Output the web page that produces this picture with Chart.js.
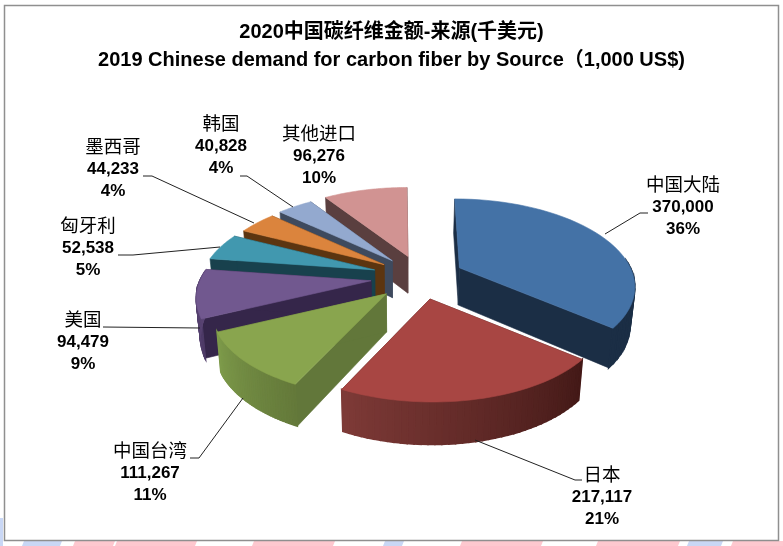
<!DOCTYPE html>
<html><head><meta charset="utf-8">
<style>html,body{margin:0;padding:0;background:#fff}canvas{display:block}</style>
<script src="https://cdn.jsdelivr.net/npm/chart.js@4"></script>
</head><body><canvas id="c" width="783" height="546"></canvas>
<script>
const categories=['中国大陆','日本','中国台湾','美国','匈牙利','墨西哥','韩国','其他进口'];
const values=[370000,217117,111267,94479,52538,44233,40828,96276];
const percents=['36%','21%','11%','9%','5%','4%','4%','10%'];
const explode=[43,45,48,50,48,44,43,43];
const topColors=['#4472a6','#a84643','#89a54e','#71588f','#4198af','#db843d','#93a9cf','#d19392'];
const wallColors=['#1b2e45','#4a1c1a','#62773a','#35264a','#18414d','#5c3510','#3e4a5e','#5a3f3f'];
const arcLight=['#1b2e45','#7e3a37','#7d9a4a','#5e4878','#18414d','#5c3510','#3e4a5e','#5a3f3f'];
const arcDark=['#1b2e45','#431917','#64793a','#4d3a66','#18414d','#5c3510','#3e4a5e','#5a3f3f'];
const labelCenters=[[683,184],[602,474],[150,450],[83,319],[88,225],[113,146],[221,123],[319,133]];
const leaders=[[[605,234],[640,213],[648,213]],[[475,440],[575,480],[582,480]],[[243,398],[199,458],[190,458]],[[200,328],[103,327]],[[220,247],[133,255],[118,255]],[[254,223],[152,176],[143,176]],[[293,207],[247,176],[240,176]],null];
const titleLines=['2020中国碳纤维金额-来源(千美元)','2019 Chinese demand for carbon fiber by Source（1,000 US$)'];
const stripes=[['#c9d7f5',22,60],['#fec8cf',73,113],['#fec8cf',115,195],['#fec8cf',252,333],['#c9d7f5',383,402],['#fec8cf',460,541],['#fec8cf',596,678],['#c9d7f5',687,721],['#fec8cf',731,783]];

const SHIFT=29,K=0.5,K2=0.483,P=0.198,N=40;
function hex(c){return [1,3,5].map(i=>parseInt(c.substr(i,2),16));}
function mix(a,b,t){const A=hex(a),B=hex(b);return 'rgb('+A.map((x,i)=>Math.round(x+(B[i]-x)*t)).join(',')+')';}
function geom(arc){
  const mid=(arc.startAngle+arc.endAngle)/2,off=arc.options.offset;
  const ax=arc.x+SHIFT+off*Math.cos(mid),ay=arc.y+off*Math.sin(mid)*K,R=arc.outerRadius;
  return {ax,ay,pt(a){const u=Math.cos(a),v=Math.sin(a),s=1/(1-P*v);
    return [ax+R*u*s+(ax-392)*0.07*v,ay+R*K2*v*s];}};
}
function drop(p){return [p[0]-(p[0]-400)*0.02,p[1]+37.5+(p[1]-276)*0.04];}
function fillPoly(ctx,pts,col,lw){ctx.beginPath();pts.forEach((p,i)=>i?ctx.lineTo(p[0],p[1]):ctx.moveTo(p[0],p[1]));ctx.closePath();
  ctx.fillStyle=col;ctx.strokeStyle=col;ctx.lineWidth=lw||0.6;ctx.fill();ctx.stroke();}
const frame={id:'frame',beforeDraw(ch){const c=ch.ctx;c.save();c.fillStyle='#fff';c.fillRect(0,0,783,546);
  stripes.forEach(s=>{c.fillStyle=s[0];c.beginPath();c.moveTo(s[1]+2,541);c.lineTo(s[2]+2,541);c.lineTo(s[2],546);c.lineTo(s[1],546);c.closePath();c.fill();});
  c.fillStyle='#c9d7f5';c.fillRect(0,518,3,28);
  c.strokeStyle='#8f8f8f';c.lineWidth=1.5;c.strokeRect(4.5,5.5,774,535);c.restore();}};
const solid={id:'solid',beforeDatasetsDraw(ch){
  const c=ch.ctx,arcs=ch.getDatasetMeta(0).data;c.save();
  const order=arcs.map((a,i)=>i).sort((i,j)=>Math.sin((arcs[i].startAngle+arcs[i].endAngle)/2)-Math.sin((arcs[j].startAngle+arcs[j].endAngle)/2));
  order.forEach(i=>{const arc=arcs[i],g=geom(arc),ap=[g.ax,g.ay],a0=arc.startAngle,a1=arc.endAngle;
    const pts=[];for(let k=0;k<=N;k++)pts.push(g.pt(a0+(a1-a0)*k/N));
    [pts[0],pts[N]].forEach(p=>fillPoly(c,[ap,p,drop(p),drop(ap)],wallColors[i]));
    for(let k=0;k<N;k++){const m=a0+(a1-a0)*(k+.5)/N;if(Math.sin(m)<-0.12)continue;
      const t=(k+.5)/N;fillPoly(c,[pts[k],pts[k+1],drop(pts[k+1]),drop(pts[k])],mix(arcDark[i],arcLight[i],t),1.6);}
    fillPoly(c,[ap].concat(pts),topColors[i]);
  });
  c.restore();return false;}};
const labels={id:'labels',afterDraw(ch){const c=ch.ctx;c.save();
  c.strokeStyle='#222';c.lineWidth=1;
  leaders.forEach(l=>{if(!l)return;c.beginPath();l.forEach((p,i)=>i?c.lineTo(p[0],p[1]):c.moveTo(p[0],p[1]));c.stroke();});
  c.fillStyle='#000';c.textAlign='center';c.textBaseline='middle';
  categories.forEach((n,i)=>{const [x,y]=labelCenters[i];
    c.font='18.5px "Noto Sans CJK SC"';c.fillText(n,x,y);
    c.font='bold 17px "Liberation Sans"';
    c.fillText(values[i].toLocaleString('en-US'),x,y+23);c.fillText(percents[i],x,y+45);});
  c.restore();}};
new Chart(document.getElementById('c'),{type:'pie',
  data:{labels:categories,datasets:[{data:values,backgroundColor:topColors,offset:explode,radius:171,borderWidth:0}]},
  options:{responsive:false,animation:false,devicePixelRatio:1,layout:{padding:{bottom:66}},
    plugins:{legend:{display:false},tooltip:{enabled:false},
      title:{display:true,text:titleLines,color:'#000',font:{family:'"Liberation Sans","Noto Sans CJK SC"',size:20,weight:'bold',lineHeight:1.4},padding:{top:18,bottom:0}}}},
  plugins:[frame,solid,labels]});
</script></body></html>
